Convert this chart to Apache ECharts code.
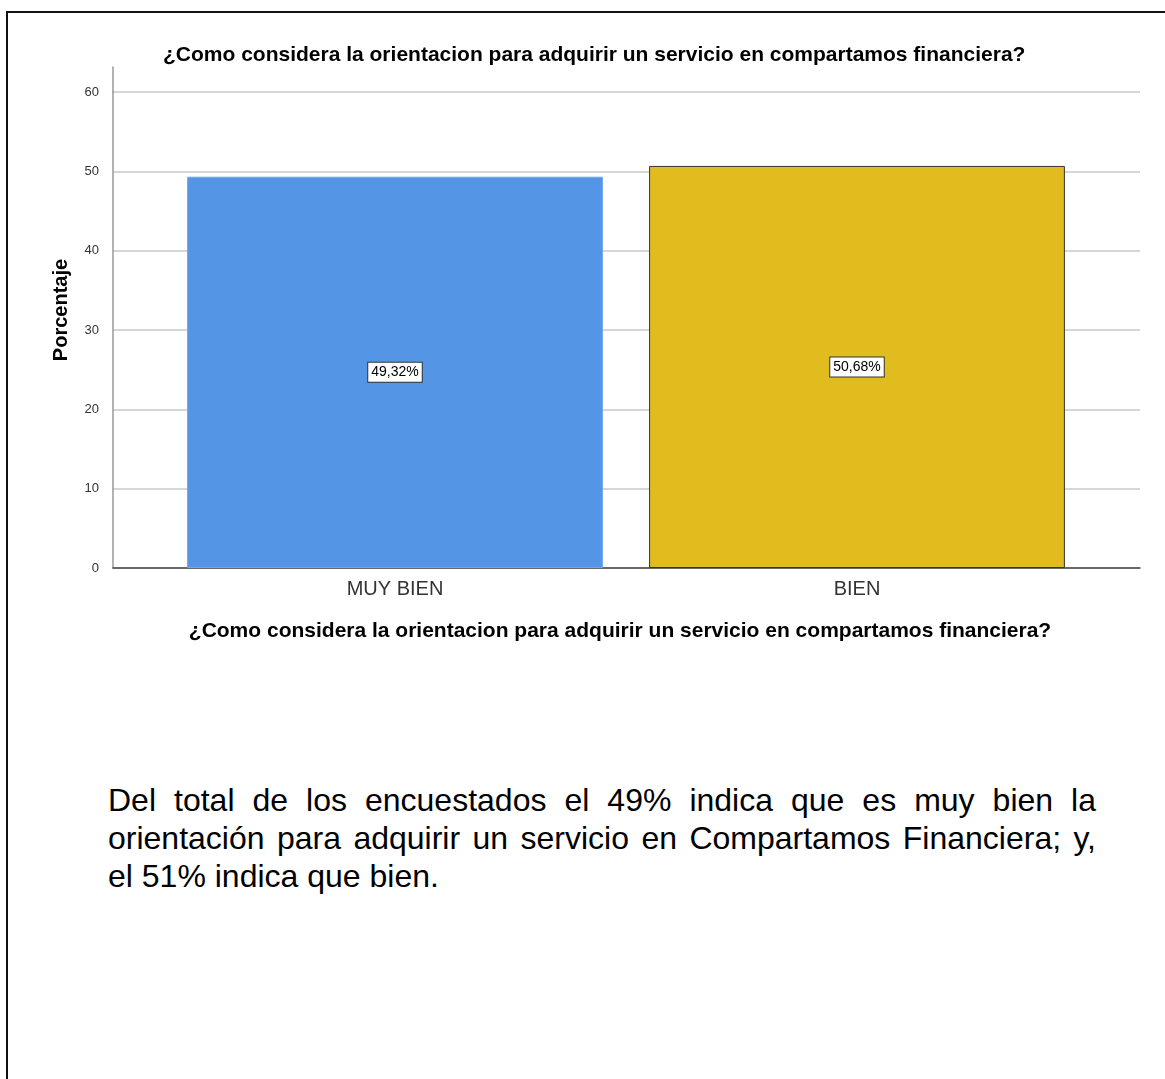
<!DOCTYPE html>
<html lang="es">
  <head>
    <meta charset="UTF-8" />
    <title>Orientacion</title>
    <style>
      body { margin: 0; background: #fff; }
      #frame {
        position: absolute; left: 6px; top: 11px; right: 0; bottom: 0;
        border-top: 2px solid #111; border-left: 2px solid #111;
      }
      #chart { position: absolute; left: 0; top: 0; width: 1165px; height: 700px; }
      #texto {
        position: absolute; left: 108px; top: 781px; width: 988px; margin: 0;
        font-family: "Liberation Sans", Arial, sans-serif; font-size: 32px;
        line-height: 38px; text-align: justify; color: #000;
      }
    </style>
  </head>
  <body>
    <div id="frame"></div>
    <div id="chart"></div>
    <p id="texto"></p>
    <script src="https://cdn.jsdelivr.net/npm/echarts@6/dist/echarts.min.js"></script>
    <script>
      // datos
      var pregunta = "¿Como considera la orientacion para adquirir un servicio en compartamos financiera?";
      var categorias = ["MUY BIEN", "BIEN"];
      var porcentajes = [49.32, 50.68];
      var colores = ["#5595e5", "#e0bc1f"];
      var bordes = ["#6ea7ec", "#333333"];
      var yTicks = { min: 0, max: 60, interval: 10 };

      var fuente = '"Liberation Sans", Arial, sans-serif';

      function fmt(v) {
        return v.toFixed(2).replace(".", ",") + "%";
      }

      var chart = echarts.init(document.getElementById("chart"));

      var option = {
        animation: false,
        title: {
          text: pregunta,
          left: 158,
          top: 40,
          textStyle: { fontFamily: fuente, fontSize: 21, fontWeight: "bold", color: "#000" }
        },
        grid: [
          // marco de ejes
          { left: 113, top: 92, width: 1027, height: 476 },
          // barras
          { left: 164, top: 92, width: 924, height: 476 },
          // prolongacion del eje y por encima de 60
          { left: 113, top: 67, width: 1027, height: 25 }
        ],
        xAxis: [
          {
            gridIndex: 0, type: "category", data: ["", ""],
            axisLine: { lineStyle: { color: "#444", width: 1.5 } },
            axisTick: { show: false }, axisLabel: { show: false }
          },
          {
            gridIndex: 1, type: "category", data: categorias,
            axisLine: { show: false }, axisTick: { show: false },
            axisLabel: { margin: 11, fontFamily: fuente, fontSize: 20, color: "#333" },
            name: pregunta, nameLocation: "middle", nameGap: 53,
            nameTextStyle: {
              fontFamily: fuente, fontSize: 21, fontWeight: "bold", color: "#000",
              padding: [0, 12, 0, 0]
            }
          },
          { gridIndex: 2, type: "value", show: false }
        ],
        yAxis: [
          {
            gridIndex: 0, type: "value",
            min: yTicks.min, max: yTicks.max, interval: yTicks.interval,
            axisLine: { show: true, lineStyle: { color: "#999", width: 1.5 } },
            axisTick: { show: false },
            axisLabel: { margin: 14, fontFamily: fuente, fontSize: 13, color: "#333" },
            splitLine: { lineStyle: { color: "#d6d6d6", width: 2 } }
          },
          {
            gridIndex: 1, type: "value",
            min: yTicks.min, max: yTicks.max, show: false
          },
          {
            gridIndex: 2, type: "value", min: 0, max: 1,
            axisLine: { show: true, lineStyle: { color: "#999", width: 1.5 } },
            axisTick: { show: false }, axisLabel: { show: false }, splitLine: { show: false }
          }
        ],
        graphic: [
          {
            type: "text", x: 61, y: 310, rotation: Math.PI / 2,
            style: {
              text: "Porcentaje", align: "center", verticalAlign: "middle",
              font: "bold 20px " + fuente, fill: "#000"
            }
          }
        ],
        series: [
          {
            type: "bar",
            xAxisIndex: 1,
            yAxisIndex: 1,
            barWidth: "90%",
            data: porcentajes.map(function (v, i) {
              return {
                value: v,
                itemStyle: { color: colores[i], borderColor: bordes[i], borderWidth: 1 }
              };
            }),
            label: {
              show: true,
              position: "inside",
              formatter: function (p) { return fmt(p.value); },
              fontFamily: fuente,
              fontSize: 14,
              color: "#000",
              backgroundColor: "#fff",
              borderColor: "#333",
              borderWidth: 1,
              padding: [3, 3, 2, 3]
            }
          }
        ]
      };

      chart.setOption(option);

      document.getElementById("texto").textContent =
        "Del total de los encuestados el " + Math.round(porcentajes[0]) +
        "% indica que es muy bien la orientación para adquirir un servicio en Compartamos Financiera; y, el " +
        Math.round(porcentajes[1]) + "% indica que bien.";
    </script>
  </body>
</html>
